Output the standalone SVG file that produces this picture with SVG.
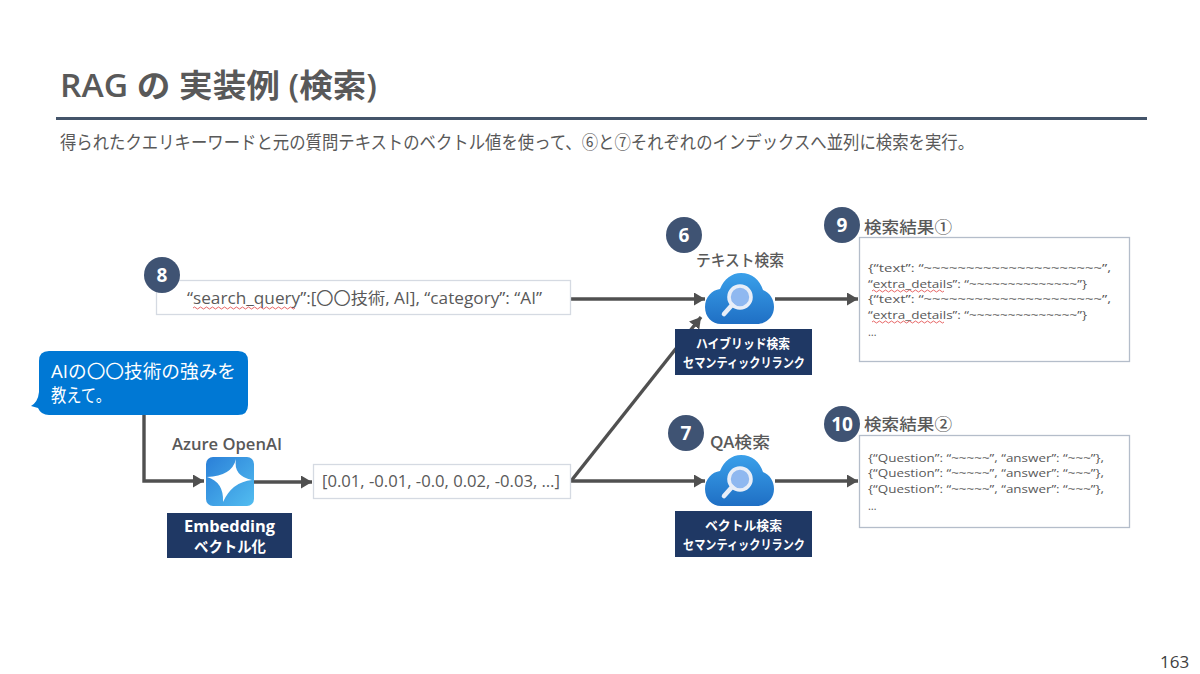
<svg xmlns="http://www.w3.org/2000/svg" width="1200" height="674" viewBox="0 0 1200 674">
<style>
text{font-family:"Open Sans","Noto Sans CJK JP",sans-serif;fill:#595959}
.j{font-family:"Noto Sans CJK JP",sans-serif}
.box{fill:#fff;stroke:#d5dae2;stroke-width:1.3}
.res{fill:#fff;stroke:#b4bdca;stroke-width:1.3}
.navy{fill:#1f3864}
.nt{fill:#fff;font-weight:700;font-size:13px}
.badge{fill:#3f5373}
.bt{fill:#fff;font-weight:700;font-size:19px;text-anchor:middle}
.lab{font-size:16px;font-weight:500;fill:#595959}
.code{font-size:11px}
.wire{fill:none;stroke:#505050;stroke-width:3.4;stroke-linejoin:miter}
.sq{fill:none;stroke:#e04040;stroke-width:.8}
</style>
<defs>
<marker id="ah" markerUnits="userSpaceOnUse" markerWidth="12" markerHeight="13" refX="11" refY="6.5" orient="auto"><path d="M0 0L11 6.5L0 13z" fill="#505050"/></marker>
<linearGradient id="cl" x1="0" y1="0" x2="0" y2="1"><stop offset="0" stop-color="#3aa0ea"/><stop offset="1" stop-color="#1f6fc4"/></linearGradient>
<linearGradient id="az" x1="0" y1="0" x2="1" y2="1"><stop offset="0" stop-color="#2a7fd8"/><stop offset="1" stop-color="#52bdf0"/></linearGradient>
<g id="cloud">
<path d="M0 34C0 24 7 17 15 16C19 6 27 0 36 0C47 0 55 7 58 17C65 20 69 26 69 34C69 44 61 51 52 51H16C7 51 0 44 0 34z" fill="url(#cl)"/>
<circle cx="35" cy="24" r="11" fill="#8fb8f0" stroke="#e8eef8" stroke-width="3.600"/>
<path d="M27 32L19 41" stroke="#e8eef8" stroke-width="4.600" stroke-linecap="round"/>
</g>
</defs>
<rect width="1200" height="674" fill="#fff"/>

<g id="header">
<text x="60" y="97" font-size="32" font-weight="600" textLength="317" lengthAdjust="spacingAndGlyphs">RAG の 実装例 (検索)</text>
<rect x="56" y="117" width="1091" height="3" fill="#44546a"/>
<text class="j" x="60" y="149" font-size="18.500" textLength="914" lengthAdjust="spacingAndGlyphs">得られたクエリキーワードと元の質問テキストのベクトル値を使って、⑥と⑦それぞれのインデックスへ並列に検索を実行。</text>
<text x="1160" y="668" font-size="17" style="fill:#404040">163</text>
</g>

<g id="connectors">
<path class="wire" d="M144 415V481H204" marker-end="url(#ah)"/>
<path class="wire" d="M254 482H312" marker-end="url(#ah)"/>
<path class="wire" d="M571 299H705" marker-end="url(#ah)"/>
<path class="wire" d="M571 481H705" marker-end="url(#ah)"/>
<path class="wire" d="M571 481L701 317" marker-end="url(#ah)"/>
<path class="wire" d="M775 299H858" marker-end="url(#ah)"/>
<path class="wire" d="M775 481H858" marker-end="url(#ah)"/>
</g>

<g id="query">
<rect class="box" x="156.500" y="280.500" width="414" height="34"/>
<text x="187" y="304" font-size="15.500" textLength="355" lengthAdjust="spacingAndGlyphs">“search_query”:[〇〇技術, AI], “category”: “AI”</text>
<path class="sq" d="M193 308q1.500-2 3 0t3 0t3 0t3 0t3 0t3 0t3 0t3 0t3 0t3 0t3 0t3 0t3 0t3 0t3 0t3 0t3 0t3 0t3 0t3 0t3 0t3 0t3 0t3 0t3 0t3 0t3 0t3 0t3 0t3 0t3 0t3 0t3 0t3 0"/>
</g>
<g id="badge8"><circle class="badge" cx="162" cy="275" r="18"/><text class="bt" x="162" y="282">8</text></g>

<g id="question">
<path d="M49 351H238Q248 351 248 361V405Q248 415 238 415H49Q41 415 38 408L31 406Q38 402 39 392V361Q39 351 49 351z" fill="#0078d4"/>
<text x="51" y="378" font-size="18" style="fill:#fff" textLength="185" lengthAdjust="spacingAndGlyphs">AIの〇〇技術の強みを</text>
<text x="51" y="402" font-size="18" style="fill:#fff" textLength="60" lengthAdjust="spacingAndGlyphs">教えて。</text>
</g>

<g id="openai">
<text class="lab" x="172" y="450" textLength="110" lengthAdjust="spacingAndGlyphs" style="font-weight:600">Azure OpenAI</text>
<rect x="206" y="457" width="48" height="49" rx="7" fill="url(#az)"/>
<path d="M236 459Q233 476 252 480Q232 482 223 502Q224 482 207 477Q232 476 236 459z" fill="#fff"/>
<rect class="navy" x="167" y="513" width="125" height="45"/>
<text class="nt" x="184" y="532" style="font-size:16px" textLength="91" lengthAdjust="spacingAndGlyphs">Embedding</text>
<text class="nt j" x="194" y="552" style="font-size:15px" textLength="72" lengthAdjust="spacingAndGlyphs">ベクトル化</text>
</g>

<g id="vector">
<rect class="box" x="313.500" y="464.500" width="257" height="34"/>
<text x="322" y="487" font-size="15.500" textLength="238" lengthAdjust="spacingAndGlyphs">[0.01, -0.01, -0.0, 0.02, -0.03, …]</text>
</g>

<g id="text-search">
<text class="lab j" x="696" y="266" textLength="88" lengthAdjust="spacingAndGlyphs">テキスト検索</text>
<use href="#cloud" x="705" y="273"/>
<rect class="navy" x="675" y="329" width="137" height="46"/>
<text class="nt j" x="696" y="348" textLength="94" lengthAdjust="spacingAndGlyphs">ハイブリッド検索</text>
<text class="nt j" x="683" y="367" textLength="122" lengthAdjust="spacingAndGlyphs">セマンティックリランク</text>
</g>
<g id="badge6"><circle class="badge" cx="684" cy="235" r="18"/><text class="bt" x="684" y="242">6</text></g>

<g id="qa-search">
<text class="lab j" x="710" y="448" textLength="60" lengthAdjust="spacingAndGlyphs">QA検索</text>
<use href="#cloud" x="705" y="455"/>
<rect class="navy" x="675" y="511" width="137" height="46"/>
<text class="nt j" x="705" y="530" textLength="77" lengthAdjust="spacingAndGlyphs">ベクトル検索</text>
<text class="nt j" x="683" y="549" textLength="122" lengthAdjust="spacingAndGlyphs">セマンティックリランク</text>
</g>
<g id="badge7"><circle class="badge" cx="686" cy="433" r="18"/><text class="bt" x="686" y="440">7</text></g>

<g id="result1">
<text class="lab j" x="864" y="233" textLength="88" lengthAdjust="spacingAndGlyphs">検索結果①</text>
<rect class="res" x="859.500" y="237.500" width="270" height="124"/>
<text class="code" x="868" y="272" textLength="243" lengthAdjust="spacingAndGlyphs">{“text”: “~~~~~~~~~~~~~~~~~~~~~”,</text>
<text class="code" x="868" y="288" textLength="219" lengthAdjust="spacingAndGlyphs">“extra_details”: “~~~~~~~~~~~~~~”}</text>
<text class="code" x="868" y="303" textLength="243" lengthAdjust="spacingAndGlyphs">{“text”: “~~~~~~~~~~~~~~~~~~~~~”,</text>
<text class="code" x="868" y="319" textLength="219" lengthAdjust="spacingAndGlyphs">“extra_details”: “~~~~~~~~~~~~~~”}</text>
<text class="code" x="868" y="336">…</text>
<path class="sq" d="M872 291q1.500-2 3 0t3 0t3 0t3 0t3 0t3 0t3 0t3 0t3 0t3 0t3 0t3 0t3 0t3 0t3 0t3 0t3 0t3 0t3 0t3 0t3 0t3 0t3 0t3 0"/>
<path class="sq" d="M872 322q1.500-2 3 0t3 0t3 0t3 0t3 0t3 0t3 0t3 0t3 0t3 0t3 0t3 0t3 0t3 0t3 0t3 0t3 0t3 0t3 0t3 0t3 0t3 0t3 0t3 0"/>
</g>
<g id="badge9"><circle class="badge" cx="842" cy="225" r="18"/><text class="bt" x="842" y="232">9</text></g>

<g id="result2">
<text class="lab j" x="864" y="430" textLength="88" lengthAdjust="spacingAndGlyphs">検索結果②</text>
<rect class="res" x="859.500" y="435.500" width="270" height="92"/>
<text class="code" x="868" y="462" textLength="236" lengthAdjust="spacingAndGlyphs">{“Question”: “~~~~~”, “answer”: “~~~”},</text>
<text class="code" x="868" y="477" textLength="236" lengthAdjust="spacingAndGlyphs">{“Question”: “~~~~~”, “answer”: “~~~”},</text>
<text class="code" x="868" y="493" textLength="236" lengthAdjust="spacingAndGlyphs">{“Question”: “~~~~~”, “answer”: “~~~”},</text>
<text class="code" x="868" y="510">…</text>
</g>
<g id="badge10"><circle class="badge" cx="842" cy="424" r="18"/><text class="bt" x="842" y="431">10</text></g>
</svg>
